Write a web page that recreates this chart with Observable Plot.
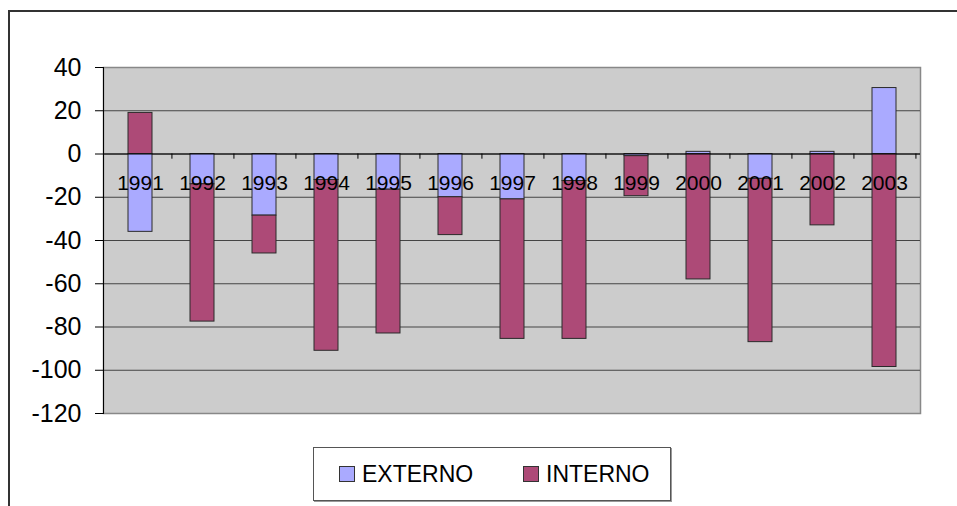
<!DOCTYPE html>
<html>
<head>
<meta charset="utf-8">
<script src="https://cdn.jsdelivr.net/npm/d3@7"></script>
<script src="https://cdn.jsdelivr.net/npm/@observablehq/plot@0.6"></script>
<style>
  html, body { margin: 0; padding: 0; background: #fff; overflow: hidden; }
  #wrap { position: relative; width: 957px; height: 506px; font-family: "Liberation Sans", Arial, sans-serif; }
  #outer { position: absolute; left: 8px; top: 10px; width: 1000px; height: 600px; border-top: 2px solid #333; border-left: 2px solid #333; }
  #chart { position: absolute; left: 0; top: 0; }
  #legend { position: absolute; left: 313px; top: 447px; width: 356px; height: 52px; border: 1px solid #555; background: #fff;
            box-shadow: 1px 1px 0 #999; font-size: 23px; color: #000; }
  .item { position: absolute; top: 0; height: 52px; display: flex; align-items: center; }
  .sw { width: 14px; height: 14px; border: 1px solid #333; margin-right: 7px; }
</style>
</head>
<body>
<div id="wrap">
  <div id="outer"></div>
  <div id="chart"></div>
  <div id="legend"></div>
</div>
<script>
const years = ["1991","1992","1993","1994","1995","1996","1997","1998","1999","2000","2001","2002","2003"];
const series = ["EXTERNO", "INTERNO"];
const externo = [-36, -14, -28.5, -12, -16.5, -20, -21, -12.5, -1, 1, -11.5, 1, 30.5];
const interno = [19, -63.5, -17.5, -79, -66.5, -17.5, -64.5, -73, -18.5, -58, -75.5, -33, -98.5];
const yTicks = [-120, -100, -80, -60, -40, -20, 0, 20, 40];
const colors = ["#AAAAFF", "#AD4A77"];

const rows = [];
series.forEach((s, si) => {
  const vals = si === 0 ? externo : interno;
  years.forEach((y, i) => rows.push({year: y, series: s, value: vals[i]}));
});

const W = 957, H = 506, mL = 103, mR = 37;
const step = (W - mL - mR) / years.length;

const chart = Plot.plot({
  width: W,
  height: H,
  marginLeft: mL,
  marginRight: mR,
  marginTop: 67,
  marginBottom: 93,
  style: {fontFamily: "'Liberation Sans', Arial, sans-serif", background: "transparent", color: "#000"},
  x: {domain: years, paddingInner: 0.615, paddingOuter: 0.3075, axis: null},
  y: {domain: [-120, 40], axis: null},
  color: {domain: series, range: colors},
  marks: [
    Plot.frame({fill: "#CCCCCC", stroke: "#888888", strokeWidth: 1.5}),
    Plot.gridY(yTicks.filter(d => d > -120 && d < 40), {stroke: "#444", strokeOpacity: 1, strokeWidth: 1}),
    Plot.barY(rows, {x: "year", y: "value", fill: "series", stroke: "#2a2a2a", strokeWidth: 1}),
    Plot.ruleY([0], {stroke: "#000", strokeWidth: 1}),
    Plot.ruleX(years, {x: d => d, y1: 0, y2: -2.4, dx: step / 2, stroke: "#000", strokeWidth: 1}),
    Plot.frame({anchor: "left", stroke: "#000", strokeWidth: 1}),
    Plot.axisY({ticks: yTicks, tickSize: 8, tickPadding: 14, tickFormat: d => String(d), fontSize: 25, label: null, stroke: "#000"}),
    Plot.text(years, {x: d => d, y: () => 0, dy: 29, text: d => d, fontSize: 21, fill: "#000"})
  ]
});
document.getElementById("chart").appendChild(chart);

const legend = document.getElementById("legend");
const pos = [25, 209];
series.forEach((s, i) => {
  const it = document.createElement("div");
  it.className = "item";
  it.style.left = pos[i] + "px";
  const sw = document.createElement("div");
  sw.className = "sw";
  sw.style.background = colors[i];
  const t = document.createElement("span");
  t.textContent = s;
  it.appendChild(sw);
  it.appendChild(t);
  legend.appendChild(it);
});
</script>
</body>
</html>
